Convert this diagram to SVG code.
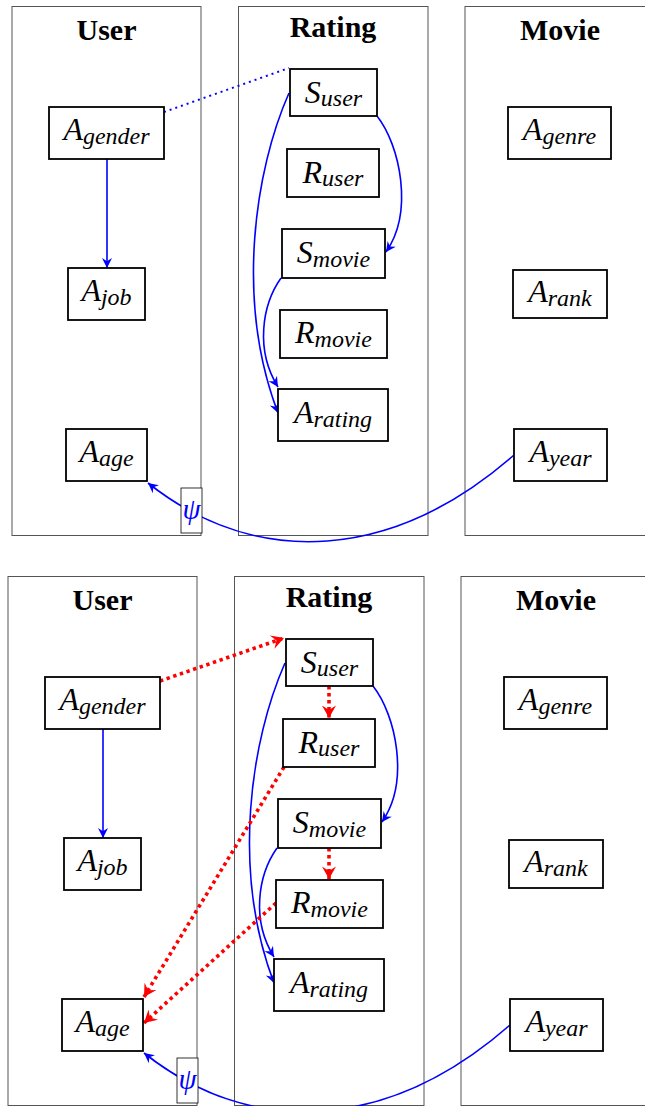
<svg xmlns="http://www.w3.org/2000/svg" width="645" height="1106" viewBox="0 0 645 1106">
<style>
.panel{fill:none;stroke:#555;stroke-width:1}
.title{font-family:"Liberation Serif","Times New Roman",serif;font-weight:bold;font-size:30px;text-anchor:middle;fill:#000}
.box{fill:#fff;stroke:#000;stroke-width:1.8}
.lbl{font-family:"Liberation Serif","Times New Roman",serif;font-style:italic;font-size:32px;text-anchor:middle;fill:#000}
.sub{font-size:24px}
.blue{fill:none;stroke:#0000ff;stroke-width:1.6}
.bdot{fill:none;stroke:#0000ff;stroke-width:2;stroke-dasharray:2 4}
.red{fill:none;stroke:#ff0000;stroke-width:3.6;stroke-dasharray:3.4 3.6}
.psibox{fill:#fff;stroke:#000;stroke-width:0.8}
.psi{font-family:"Liberation Serif","Times New Roman",serif;font-style:italic;font-size:29px;text-anchor:middle;fill:#0000ff}
</style>
<defs>
<marker id="mb" markerUnits="userSpaceOnUse" viewBox="-11 -6 12 12" markerWidth="12" markerHeight="12" refX="0" refY="0" orient="auto">
<path d="M0,0 L-10,-5 L-6.8,0 L-10,5 Z" fill="#0000ff"/>
</marker>
<marker id="mr" markerUnits="userSpaceOnUse" viewBox="-13 -8 14 16" markerWidth="14" markerHeight="16" refX="0" refY="0" orient="auto">
<path d="M0,0 L-12.5,-7 L-8,0 L-12.5,7 Z" fill="#ff0000"/>
</marker>
</defs>

<g id="top">
<g id="top-panels">
<rect class="panel" x="12" y="6.5" width="189" height="529"/>
<rect class="panel" x="238.5" y="6.5" width="189.5" height="529"/>
<rect class="panel" x="465" y="6.5" width="189" height="529"/>
<text class="title" x="106.5" y="40">User</text>
<text class="title" x="333" y="37">Rating</text>
<text class="title" x="560" y="40">Movie</text>
</g>
<g id="top-connectors">
<path class="blue" d="M107,159 L107,268" marker-end="url(#mb)"/>
<path class="bdot" d="M164,112 L289,68"/>
<path class="blue" d="M377,116 C400,145 414,212 386,252" marker-end="url(#mb)"/>
<path class="blue" d="M289,93 C255,170 235,300 278,413" marker-end="url(#mb)"/>
<path class="blue" d="M281,278 C262,305 255,350 278,387" marker-end="url(#mb)"/>
<path class="blue" d="M514,455 C394,560 258,570 148,483" marker-end="url(#mb)"/>
<rect class="psibox" x="181" y="488" width="21" height="45"/>
<text class="psi" x="191.5" y="519">ψ</text>
</g>
<g id="top-A_gender"><rect class="box" x="49" y="107" width="115" height="52"/><text class="lbl" x="106.5" y="140">A<tspan class="sub" dy="4">gender</tspan></text></g>
<g id="top-A_job"><rect class="box" x="68" y="268" width="77" height="52"/><text class="lbl" x="106.5" y="301">A<tspan class="sub" dy="4">job</tspan></text></g>
<g id="top-A_age"><rect class="box" x="66" y="429" width="81" height="52"/><text class="lbl" x="106.5" y="462">A<tspan class="sub" dy="4">age</tspan></text></g>
<g id="top-S_user"><rect class="box" x="290" y="69" width="87" height="47"/><text class="lbl" x="333.5" y="103">S<tspan class="sub" dy="3">user</tspan></text></g>
<g id="top-R_user"><rect class="box" x="287" y="149" width="92" height="48"/><text class="lbl" x="333" y="183">R<tspan class="sub" dy="3">user</tspan></text></g>
<g id="top-S_movie"><rect class="box" x="282" y="229" width="103" height="49"/><text class="lbl" x="333.5" y="263">S<tspan class="sub" dy="4">movie</tspan></text></g>
<g id="top-R_movie"><rect class="box" x="280" y="310" width="107" height="48"/><text class="lbl" x="333.5" y="343">R<tspan class="sub" dy="4">movie</tspan></text></g>
<g id="top-A_rating"><rect class="box" x="278" y="389" width="110" height="52"/><text class="lbl" x="333" y="423">A<tspan class="sub" dy="4">rating</tspan></text></g>
<g id="top-A_genre"><rect class="box" x="508" y="107" width="103" height="52"/><text class="lbl" x="559.5" y="140">A<tspan class="sub" dy="4">genre</tspan></text></g>
<g id="top-A_rank"><rect class="box" x="513" y="270" width="94" height="48"/><text class="lbl" x="560" y="302">A<tspan class="sub" dy="4">rank</tspan></text></g>
<g id="top-A_year"><rect class="box" x="514" y="429" width="93" height="52"/><text class="lbl" x="560.5" y="462">A<tspan class="sub" dy="4">year</tspan></text></g>
</g>

<g id="bottom" transform="translate(-4,570)">
<g id="bottom-panels">
<rect class="panel" x="12" y="6.5" width="189" height="529"/>
<rect class="panel" x="238.5" y="6.5" width="189.5" height="529"/>
<rect class="panel" x="465" y="6.5" width="189" height="529"/>
<text class="title" x="106.5" y="40">User</text>
<text class="title" x="333" y="37">Rating</text>
<text class="title" x="560" y="40">Movie</text>
</g>
<g id="bottom-connectors">
<path class="blue" d="M107,159 L107,268" marker-end="url(#mb)"/>
<path class="blue" d="M377,116 C400,145 414,212 386,252" marker-end="url(#mb)"/>
<path class="blue" d="M289,93 C255,170 235,300 278,413" marker-end="url(#mb)"/>
<path class="blue" d="M281,278 C262,305 255,350 278,387" marker-end="url(#mb)"/>
<path class="blue" d="M514,455 C394,560 258,570 148,483" marker-end="url(#mb)"/>
<path class="red" d="M164,111 L288,68" marker-end="url(#mr)"/>
<path class="red" d="M333,116 L333,148" marker-end="url(#mr)"/>
<path class="red" d="M288,197 L148,427" marker-end="url(#mr)"/>
<path class="red" d="M333,278 L333,309" marker-end="url(#mr)"/>
<path class="red" d="M280,333 L148,453" marker-end="url(#mr)"/>
<rect class="psibox" x="181" y="488" width="21" height="45"/>
<text class="psi" x="191.5" y="519">ψ</text>
</g>
<g id="bottom-A_gender"><rect class="box" x="49" y="107" width="115" height="52"/><text class="lbl" x="106.5" y="140">A<tspan class="sub" dy="4">gender</tspan></text></g>
<g id="bottom-A_job"><rect class="box" x="68" y="268" width="77" height="52"/><text class="lbl" x="106.5" y="301">A<tspan class="sub" dy="4">job</tspan></text></g>
<g id="bottom-A_age"><rect class="box" x="66" y="429" width="81" height="52"/><text class="lbl" x="106.5" y="462">A<tspan class="sub" dy="4">age</tspan></text></g>
<g id="bottom-S_user"><rect class="box" x="290" y="69" width="87" height="47"/><text class="lbl" x="333.5" y="103">S<tspan class="sub" dy="3">user</tspan></text></g>
<g id="bottom-R_user"><rect class="box" x="287" y="149" width="92" height="48"/><text class="lbl" x="333" y="183">R<tspan class="sub" dy="3">user</tspan></text></g>
<g id="bottom-S_movie"><rect class="box" x="282" y="229" width="103" height="49"/><text class="lbl" x="333.5" y="263">S<tspan class="sub" dy="4">movie</tspan></text></g>
<g id="bottom-R_movie"><rect class="box" x="280" y="310" width="107" height="48"/><text class="lbl" x="333.5" y="343">R<tspan class="sub" dy="4">movie</tspan></text></g>
<g id="bottom-A_rating"><rect class="box" x="278" y="389" width="110" height="52"/><text class="lbl" x="333" y="423">A<tspan class="sub" dy="4">rating</tspan></text></g>
<g id="bottom-A_genre"><rect class="box" x="508" y="107" width="103" height="52"/><text class="lbl" x="559.5" y="140">A<tspan class="sub" dy="4">genre</tspan></text></g>
<g id="bottom-A_rank"><rect class="box" x="513" y="270" width="94" height="48"/><text class="lbl" x="560" y="302">A<tspan class="sub" dy="4">rank</tspan></text></g>
<g id="bottom-A_year"><rect class="box" x="514" y="429" width="93" height="52"/><text class="lbl" x="560.5" y="462">A<tspan class="sub" dy="4">year</tspan></text></g>
</g>
</svg>
